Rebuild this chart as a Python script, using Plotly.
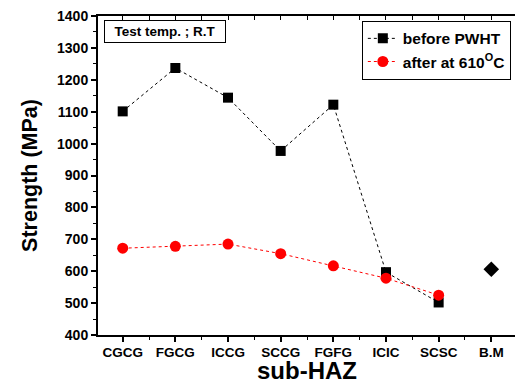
import plotly.graph_objects as go

categories = ["CGCG", "FGCG", "ICCG", "SCCG", "FGFG", "ICIC", "SCSC", "B.M"]
before_pwht = [1101, 1237, 1144, 977, 1122, 597, 502]
after_610 = [672, 678, 685, 655, 617, 578, 525]
base_metal = [606]

xpos = list(range(1, len(categories) + 1))
FONT = "Arial, Liberation Sans, sans-serif"

fig = go.Figure()
fig.add_trace(go.Scatter(
    x=xpos[:len(before_pwht)], y=before_pwht, mode="lines+markers",
    name="before PWHT",
    line=dict(color="black", width=1, dash="dot"),
    marker=dict(symbol="square", size=10, color="black"),
))
fig.add_trace(go.Scatter(
    x=xpos[:len(after_610)], y=after_610, mode="lines+markers",
    name="after at 610<sup>O</sup>C",
    line=dict(color="red", width=1, dash="dot"),
    marker=dict(symbol="circle", size=11, color="red"),
))
fig.add_trace(go.Scatter(
    x=[xpos[-1]], y=base_metal, mode="markers", showlegend=False,
    marker=dict(symbol="diamond", size=12, color="black"),
))
# top spine with inward ticks
fig.add_trace(go.Scatter(x=[1], y=[400], xaxis="x2", mode="markers",
                         marker=dict(opacity=0), showlegend=False, hoverinfo="skip"))

halfticks = [v / 2 for v in range(2, 17)]
fig.update_layout(
    width=515, height=385,
    margin=dict(l=98, r=0, t=16, b=50, autoexpand=False),
    paper_bgcolor="white", plot_bgcolor="white",
    font=dict(family=FONT, color="black"),
    showlegend=True,
    legend=dict(
        x=0.990, y=0.985, xanchor="right", yanchor="top",
        bordercolor="black", borderwidth=1, bgcolor="white",
        font=dict(size=15.5, family=FONT, weight="bold"),
        tracegroupgap=10, itemwidth=30,
    ),
    xaxis=dict(
        range=[0.531, 8.45], tickvals=xpos, ticktext=categories,
        automargin=False,
        showline=True, linecolor="black", linewidth=2,
        ticks="outside", ticklen=5, tickwidth=2, tickcolor="black",
        minor=dict(tickvals=[v + 0.5 for v in xpos], ticks="outside", ticklen=3, tickcolor="black", tickwidth=1),
        showgrid=False, zeroline=False,
        ticklabelstandoff=-1,
        tickfont=dict(size=13.5, family=FONT, weight="bold"),
    ),
    xaxis2=dict(
        range=[0.531, 8.45], overlaying="x", side="top", automargin=False,
        showline=True, linecolor="black", linewidth=2,
        tickvals=halfticks, ticks="inside", ticklen=4, tickcolor="black", tickwidth=1,
        showticklabels=False, showgrid=False, zeroline=False,
    ),
    yaxis=dict(
        range=[400, 1400], dtick=100, automargin=False,
        showline=True, linecolor="black", linewidth=2,
        ticks="outside", ticklen=5, tickwidth=2, tickcolor="black",
        minor=dict(dtick=50, ticks="outside", ticklen=3, tickcolor="black", tickwidth=1),
        showgrid=False, zeroline=False,
        tickfont=dict(size=14, family=FONT, weight="bold"),
        title=dict(text="Strength (MPa)", font=dict(size=21.5, family=FONT, weight="bold"), standoff=14),
    ),
    annotations=[
        dict(
            x=0.015, y=0.988, xref="paper", yref="paper", xanchor="left", yanchor="top",
            text="Test temp. ; R.T", showarrow=False,
            font=dict(size=13.5, family=FONT, weight="bold"),
            width=116, height=17, align="center",
            bordercolor="black", borderwidth=1, borderpad=2, bgcolor="white",
        ),
        dict(
            x=0.5, y=0, xref="paper", yref="paper", xanchor="center", yanchor="bottom",
            yshift=-50, text="sub-HAZ", showarrow=False, borderpad=0,
            font=dict(size=24, family=FONT, weight="bold"),
        ),
    ],
)

fig.write_html("out.html")
